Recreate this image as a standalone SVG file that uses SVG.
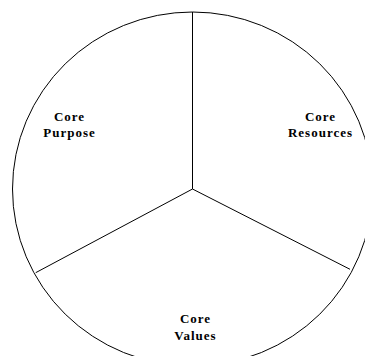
<svg xmlns="http://www.w3.org/2000/svg" width="365" height="356" viewBox="0 0 365 356">
<style>
.lbl{font-family:"Liberation Serif","Times New Roman",serif;font-weight:bold;font-size:13px;letter-spacing:1px;fill:#000;text-anchor:middle}
.ln{stroke:#000;stroke-width:1;fill:none}
</style>
<rect width="365" height="356" fill="#fff"/>
<g id="circle"><ellipse class="ln" cx="192.5" cy="189" rx="180" ry="177"/></g>
<g id="connectors">
<line class="ln" x1="192.5" y1="189" x2="192.5" y2="12"/>
<line class="ln" x1="192.5" y1="189" x2="35.7" y2="272.7"/>
<line class="ln" x1="192.5" y1="189" x2="350" y2="269.3"/>
</g>
<g id="core-purpose"><text class="lbl" x="69.5" y="120.7">Core</text><text class="lbl" x="69.5" y="136.7">Purpose</text></g>
<g id="core-resources"><text class="lbl" x="320.5" y="120.7">Core</text><text class="lbl" x="320.5" y="136.7">Resources</text></g>
<g id="core-values"><text class="lbl" x="195.5" y="323">Core</text><text class="lbl" x="195.5" y="340">Values</text></g>
</svg>
